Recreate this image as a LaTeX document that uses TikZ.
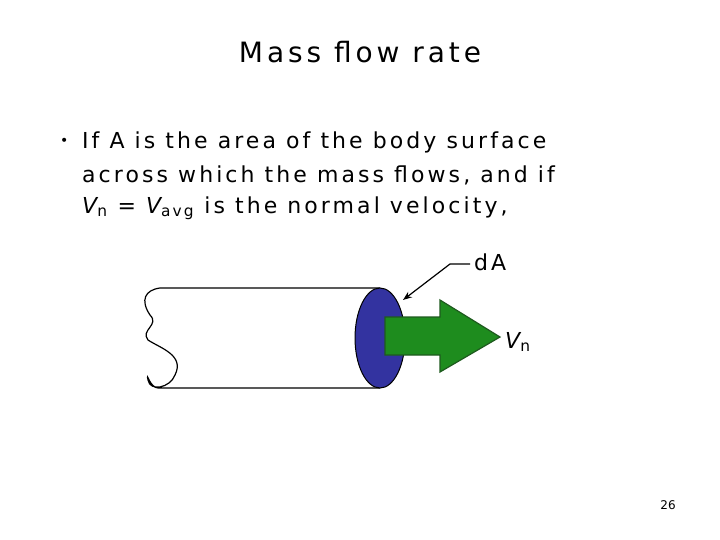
\documentclass[tikz,border=0pt]{standalone}
\usepackage{fontspec}
\setmainfont{DejaVu Sans}
\usetikzlibrary{arrows.meta,shapes.geometric}
\begin{document}
\begin{tikzpicture}[x=1pt,y=-1pt]
  \tikzstyle{Txt}   = [anchor=west, inner sep=0pt, font=\fontsize{22}{26}\selectfont\addfontfeature{LetterSpace=14}]
  \tikzstyle{Pipe}  = [line width=1.2pt]
  \tikzstyle{Face}  = [draw=black, fill={rgb,255:red,51;green,51;blue,160}, line width=1pt]
  \tikzstyle{Flow}  = [draw={rgb,255:red,30;green,90;blue,30}, fill={rgb,255:red,30;green,140;blue,30}, line width=1.2pt]

  \useasboundingbox (0,0) rectangle (720,540);

  \node (title) at (360,52) [font=\fontsize{28}{32}\selectfont\addfontfeature{LetterSpace=14}] {Mass flow rate};
  \node (bullet) at (60,142) [anchor=west, inner sep=0pt, font=\fontsize{14}{16}\selectfont] {•};
  \node (l1) at (82,142) [Txt] {If A is the area of the body surface};
  \node (l2) at (82,175) [Txt] {across which the mass flows, and if};
  \node (l3) at (82,208) [Txt] {{\itshape V}\textsubscript{n} = {\itshape V}\textsubscript{avg} is the normal velocity,};

  % pipe
  \draw [Pipe] (380,288) -- (160,288)
    .. controls (145,290) and (140,300) .. (150,315)
    .. controls (160,325) and (140,330) .. (148,340)
    .. controls (160,348) and (185,355) .. (175,375)
    .. controls (170,388) and (150,392) .. (148,380)
    .. controls (146,370) and (150,388) .. (158,388) -- (380,388);
  \node (face) at (380,338) [Face, ellipse, minimum width=50, minimum height=100, inner sep=0pt] {};

  % velocity arrow
  \draw [Flow] (385,317) -- (440,317) -- (440,300) -- (500,337) -- (440,372) -- (440,355) -- (385,355) -- cycle;
  \node (vn) at (505,342) [Txt] {{\itshape V}\textsubscript{n}};

  \node (da) at (474,262) [Txt] {dA};
  \coordinate (dak) at (450,264);
  \draw [-{Stealth[length=9pt]}, line width=1.2pt] (da.west) ++(-4,2) -- (dak) -- (403,300);

  \node (page) at (668,505) [font=\fontsize{12}{14}\selectfont] {26};
\end{tikzpicture}
\end{document}
